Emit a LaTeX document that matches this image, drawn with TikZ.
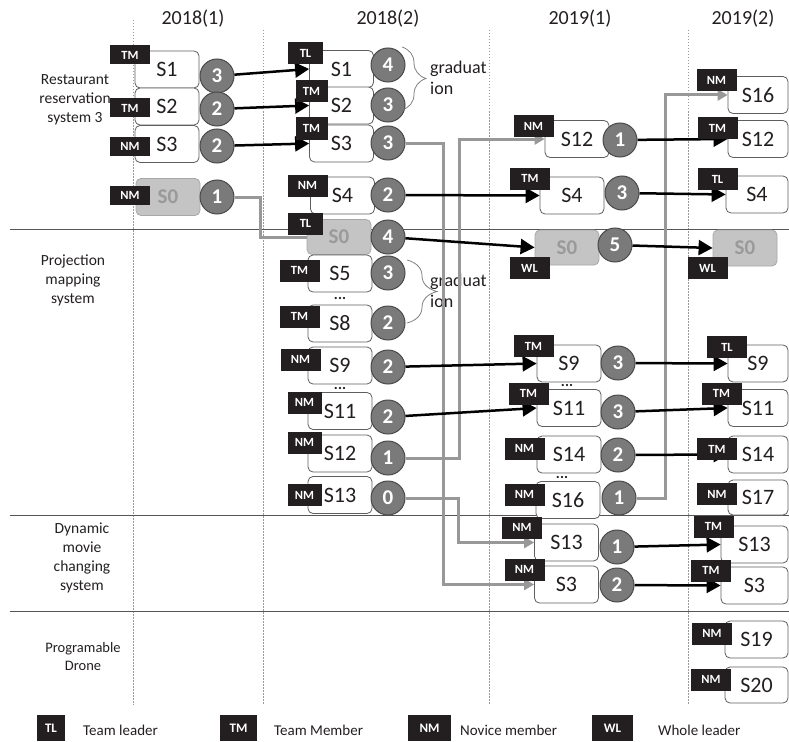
\documentclass[tikz,border=0pt]{standalone}
\usepackage{fontspec}
\setmainfont{Carlito}
\usetikzlibrary{arrows.meta,decorations.pathreplacing}

\definecolor{ink}{HTML}{231F20}
\definecolor{boxline}{HTML}{5E5E5E}
\definecolor{sfill}{HTML}{C4C4C4}
\definecolor{sline}{HTML}{A8A8A8}
\definecolor{stext}{HTML}{9A9A9A}
\definecolor{circfill}{HTML}{7A7A7A}
\definecolor{circline}{HTML}{4A4A4A}
\definecolor{rolefill}{HTML}{231F20}
\definecolor{movegray}{HTML}{989898}
\definecolor{sepcol}{HTML}{555555}
\definecolor{dotcol}{HTML}{9A9A9A}

\begin{document}
\begin{tikzpicture}[x=1pt,y=-1pt,
  sbox/.style={draw=boxline, fill=white, rounded corners=5pt, line width=0.8pt,
    minimum width=64pt, minimum height=37pt, inner sep=0pt, text=ink,
    font=\fontsize{22}{26}\selectfont},
  zbox/.style={sbox, draw=sline, fill=sfill, text=stext,
    font=\bfseries\fontsize{21}{26}\selectfont},
  pts/.style={circle, draw=circline, fill=circfill, line width=1pt,
    minimum size=34pt, inner sep=0pt, text=white,
    font=\bfseries\fontsize{21}{26}\selectfont},
  role/.style={fill=rolefill, text=white, minimum width=40pt, minimum height=22pt,
    inner sep=0pt, font=\bfseries\fontsize{12.5}{14}\selectfont},
  keyrole/.style={role, minimum height=26pt, font=\bfseries\fontsize{13}{15}\selectfont},
  passarrow/.style={line width=2.5pt, draw=black, -{Triangle[length=14pt,width=15pt]}},
  movearrow/.style={line width=3pt, draw=movegray, -{Triangle[length=10pt,width=11pt]}},
  heading/.style={text=ink, font=\fontsize{20}{24}\selectfont},
  rowlabel/.style={text=ink, align=center, font=\fontsize{15.5}{19}\selectfont},
  gradtext/.style={text=ink, align=left, anchor=west, inner sep=0pt,
    font=\fontsize{18}{21}\selectfont},
  gradbrace/.style={draw=gray, line width=0.8pt, decorate},
  ellip/.style={text=ink, inner sep=0pt, font=\bfseries\fontsize{15}{15}\selectfont},
  keytext/.style={text=ink, anchor=west, inner sep=0pt, font=\fontsize{15}{18}\selectfont},
  sepline/.style={draw=sepcol, line width=1pt},
  colline/.style={draw=dotcol, line width=0.7pt, dash pattern=on 1.5pt off 1.5pt}
]
\useasboundingbox (0,0) rectangle (789,741);

% ---- period columns and project rows
\draw[colline] (133,20) -- (133,705);
\draw[colline] (263,30) -- (263,705);
\draw[colline] (489,30) -- (489,705);
\draw[colline] (688,30) -- (688,705);
\draw[sepline] (10,229) -- (789,229);
\draw[sepline] (10,515) -- (789,515);
\draw[sepline] (10,611) -- (789,611);

\node[heading] (h1) at (193,19) {2018(1)};
\node[heading] (h2) at (388,19) {2018(2)};
\node[heading] (h3) at (580,19) {2019(1)};
\node[heading] (h4) at (743,19) {2019(2)};

\node[rowlabel] (r1) at (75,100) {Restaurant\\reservation\\system 3};
\node[rowlabel] (r2) at (73,280) {Projection\\mapping\\system};
\node[rowlabel] (r3) at (82,558) {Dynamic\\movie\\changing\\system};
\node[rowlabel, font=\fontsize{14.5}{18}\selectfont] (r4) at (83,657) {Programable\\Drone};

% ---- 2018(1)
\node[sbox] (a1) at (167,69.5) {S1};
\node[sbox] (a2) at (167,106.5) {S2};
\node[sbox] (a3) at (167,144) {S3};
\node[zbox] (a0) at (168,197) {S0};
\node[pts] (ka1) at (217,76) {3};
\node[pts] (ka2) at (217,109) {2};
\node[pts] (ka3) at (217,146) {2};
\node[pts] (ka0) at (217,197) {1};

% ---- 2018(2)
\node[sbox] (b1) at (341.5,69) {S1};
\node[sbox] (b2) at (341.5,105.5) {S2};
\node[sbox] (b3) at (341.5,143.5) {S3};
\node[sbox] (b4) at (342.5,195.5) {S4};
\node[zbox, minimum height=35pt] (b0) at (339,237) {S0};
\node[sbox] (b5) at (340,273.5) {S5};
\node[sbox] (b8) at (340,323.5) {S8};
\node[sbox] (b9) at (340,365.5) {S9};
\node[sbox] (b11) at (340,411) {S11};
\node[sbox] (b12) at (340,453.5) {S12};
\node[sbox] (b13) at (340,495) {S13};
\node[ellip] (e1) at (340,298) {...};
\node[ellip] (e2) at (340,388) {...};
\node[pts] (kb1) at (388,65) {4};
\node[pts] (kb2) at (388,105) {3};
\node[pts] (kb3) at (388,143) {3};
\node[pts] (kb4) at (388,195) {2};
\node[pts] (kb0) at (388,237) {4};
\node[pts] (kb5) at (388,273) {3};
\node[pts] (kb8) at (388,323) {2};
\node[pts] (kb9) at (388,367) {2};
\node[pts] (kb11) at (388,417) {2};
\node[pts] (kb12) at (388,458) {1};
\node[pts] (kb13) at (388,498) {0};

% graduation braces
\coordinate (g1t) at (402,47);
\coordinate (g1b) at (402,110);
\coordinate (g2t) at (407,260);
\coordinate (g2b) at (407,323);
\draw[gradbrace, decoration={brace, amplitude=24pt}] (g1t) -- (g1b);
\draw[gradbrace, decoration={brace, amplitude=30pt}] (g2t) -- (g2b);
\node[gradtext] (gt1) at (430,78) {graduat\\ion};
\node[gradtext] (gt2) at (430,291) {graduat\\ion};

% ---- 2019(1)
\node[sbox] (c12) at (577,139) {S12};
\node[sbox] (c4) at (572,195.5) {S4};
\node[zbox, minimum height=35pt] (c0) at (567,247.5) {S0};
\node[sbox] (c9) at (569,363.5) {S9};
\node[sbox] (c11) at (569,408) {S11};
\node[sbox] (c14) at (569,454.5) {S14};
\node[sbox] (c16) at (568,500) {S16};
\node[sbox] (c13) at (566.5,542.5) {S13};
\node[sbox] (c3) at (566.5,584.5) {S3};
\node[ellip] (e3) at (567,385) {...};
\node[ellip] (e4) at (562,477) {...};
\node[pts] (kc12) at (620,140) {1};
\node[pts] (kc4) at (622,193) {3};
\node[pts] (kc0) at (615,245) {5};
\node[pts] (kc9) at (618,363) {3};
\node[pts] (kc11) at (618,412) {3};
\node[pts] (kc14) at (618,455) {2};
\node[pts] (kc16) at (619,498) {1};
\node[pts] (kc13) at (617,547) {1};
\node[pts] (kc3) at (617,585) {2};

% ---- 2019(2)
\node[sbox, minimum width=60pt] (d16) at (758,95) {S16};
\node[sbox, minimum width=60pt] (d12) at (758,139) {S12};
\node[sbox, minimum width=62pt] (d4) at (757,194.5) {S4};
\node[zbox, minimum height=36pt] (d0) at (745,248) {S0};
\node[sbox, minimum width=60pt] (d9) at (758,363.5) {S9};
\node[sbox, minimum width=60pt] (d11) at (758,408) {S11};
\node[sbox, minimum width=60pt] (d14) at (758,454.5) {S14};
\node[sbox, minimum width=60pt, minimum height=35pt] (d17) at (758,497.5) {S17};
\node[sbox, minimum width=67pt] (d13) at (754.5,544.5) {S13};
\node[sbox, minimum width=67pt] (d3) at (754.5,585.5) {S3};
\node[sbox, minimum width=63pt] (d19) at (756.5,639.5) {S19};
\node[sbox, minimum width=63pt, minimum height=36pt] (d20) at (756.5,685) {S20};

% ---- members moving to another project
\draw[movearrow, -] (ka0.east) -- ++(26,0) |- (b0.west);
\draw[movearrow] (kb3.east) -- ++(38,0) |- (c3.west);
\draw[movearrow] (kb12.east) -- ++(54,0) |- (c12.west);
\draw[movearrow] (kb13.east) -- ++(53,0) |- (c13.west);
\draw[movearrow] (kc16.east) -- ++(29,0) |- (d16.west);

% ---- members continuing in the same project
\draw[passarrow] (ka1) -- (b1.west);
\draw[passarrow] (ka2) -- (b2.west);
\draw[passarrow] (ka3) -- (b3.west);
\draw[passarrow] (kb4) -- (c4.west);
\draw[passarrow] (kb0) -- (c0.west);
\draw[passarrow] (kb9) -- (c9.west);
\draw[passarrow] (kb11) -- (c11.west);
\draw[passarrow] (kc12) -- (d12.west);
\draw[passarrow] (kc4) -- (d4.west);
\draw[passarrow] (kc0) -- (d0.west);
\draw[passarrow] (kc9) -- (d9.west);
\draw[passarrow] (kc11) -- (d11.west);
\draw[passarrow] (kc14) -- (d14.west);
\draw[passarrow] (kc13) -- (d13.west);
\draw[passarrow] (kc3) -- (d3.west);

% ---- role tags
\node[role, minimum height=19pt] (ta1) at (130,55) {TM};
\node[role, minimum height=19pt] (ta2) at (130,108) {TM};
\node[role, minimum height=19pt] (ta3) at (130,146) {NM};
\node[role, minimum height=19pt] (ta0) at (130,195) {NM};

\node[role, minimum width=35pt] (tb1) at (305.5,53) {TL};
\node[role, minimum width=32pt] (tb2) at (311.5,91) {TM};
\node[role, minimum width=32pt] (tb3) at (311.5,128.5) {TM};
\node[role] (tb4) at (307.5,185.5) {NM};
\node[role, minimum width=35pt] (tb0) at (305.5,223.5) {TL};
\node[role] (tb5) at (299.5,270.5) {TM};
\node[role] (tb8) at (299.5,316.5) {TM};
\node[role] (tb9) at (300.5,359.5) {NM};
\node[role, minimum width=34pt] (tb11) at (304.5,402.5) {NM};
\node[role, minimum width=34pt] (tb12) at (304.5,442.5) {NM};
\node[role, minimum width=34pt] (tb13) at (304.5,495) {NM};

\node[role] (tc12) at (533.5,126) {NM};
\node[role] (tc4) at (530,178.5) {TM};
\node[role] (tc0) at (529.5,268) {WL};
\node[role] (tc9) at (533.5,346) {TM};
\node[role] (tc11) at (528.5,393.5) {TM};
\node[role] (tc14) at (524.5,448.5) {NM};
\node[role] (tc16) at (524.5,494.5) {NM};
\node[role] (tc13) at (522,527.5) {NM};
\node[role] (tc3) at (524.5,569.5) {NM};

\node[role] (td16) at (716.5,80.5) {NM};
\node[role] (td12) at (717.5,128) {TM};
\node[role] (td4) at (717.5,179) {TL};
\node[role] (td0) at (707.5,268) {WL};
\node[role] (td9) at (727,347) {TL};
\node[role] (td11) at (721.5,393.5) {TM};
\node[role] (td14) at (717,449) {TM};
\node[role] (td17) at (717,494) {NM};
\node[role] (td13) at (713.5,526.5) {TM};
\node[role] (td3) at (711,570.5) {TM};
\node[role] (td19) at (712,633.5) {NM};
\node[role] (td20) at (711,679.5) {NM};

% ---- legend
\node[keyrole, minimum width=28pt] (k1) at (51,728) {TL};
\node[keytext] (k1t) at (83,730) {Team leader};
\node[keyrole, minimum width=37pt] (k2) at (238.5,728) {TM};
\node[keytext] (k2t) at (274,730) {Team Member};
\node[keyrole, minimum width=43pt] (k3) at (429.5,728) {NM};
\node[keytext] (k3t) at (460,730) {Novice member};
\node[keyrole, minimum width=41pt] (k4) at (612.5,728) {WL};
\node[keytext] (k4t) at (658,730) {Whole leader};
\end{tikzpicture}
\end{document}
